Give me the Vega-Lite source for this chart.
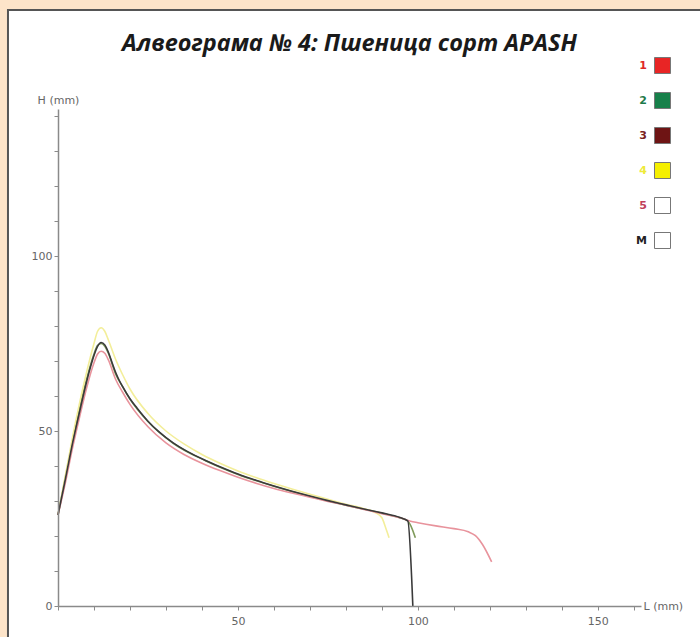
{
  "$schema": "https://vega.github.io/schema/vega-lite/v6.json",
  "width": 583,
  "height": 497,
  "autosize": {"type": "none"},
  "padding": {"left": 58, "top": 109, "right": 59, "bottom": 31},
  "background": "#fde4c9",
  "title": {
    "text": "Алвеограма № 4: Пшеница сорт APASH",
    "font": "Open Sans",
    "fontSize": 23.5,
    "fontStyle": "italic",
    "fontWeight": "bold",
    "color": "#1a1a1a",
    "anchor": "middle",
    "frame": "group",
    "offset": -47,
    "zindex": 1
  },
  "config": {
    "view": {"stroke": null},
    "axis": {
      "zindex": 1,
      "grid": false,
      "labelOverlap": false,
      "domainColor": "#8a8a8a",
      "domainWidth": 1.5,
      "tickColor": "#8a8a8a",
      "tickWidth": 1,
      "tickSize": 4,
      "labelColor": "#666666",
      "labelFont": "DejaVu Sans",
      "labelFontSize": 11,
      "titleColor": "#666666",
      "titleFont": "DejaVu Sans",
      "titleFontSize": 11,
      "titleFontWeight": "normal"
    }
  },
  "datasets": {
    "curves": [
      {"s": "2", "L": 0, "H": 26}, {"s": "2", "L": 2, "H": 36.5}, {"s": "2", "L": 4, "H": 47}, {"s": "2", "L": 6, "H": 56.5}, {"s": "2", "L": 8, "H": 65}, {"s": "2", "L": 10, "H": 72}, {"s": "2", "L": 11, "H": 74.5}, {"s": "2", "L": 12, "H": 75}, {"s": "2", "L": 13, "H": 74.2}, {"s": "2", "L": 14, "H": 72.2}, {"s": "2", "L": 16, "H": 66.3}, {"s": "2", "L": 18, "H": 62.6}, {"s": "2", "L": 20, "H": 59.1}, {"s": "2", "L": 25, "H": 52.7}, {"s": "2", "L": 32, "H": 46.5}, {"s": "2", "L": 41, "H": 41.5}, {"s": "2", "L": 50, "H": 37.6}, {"s": "2", "L": 60, "H": 34.2}, {"s": "2", "L": 70, "H": 31.3}, {"s": "2", "L": 80, "H": 28.8}, {"s": "2", "L": 90, "H": 26.5}, {"s": "2", "L": 95, "H": 25.2}, {"s": "2", "L": 97.2, "H": 24.3}, {"s": "2", "L": 99.3, "H": 19.5},
      {"s": "4", "L": 0, "H": 26}, {"s": "4", "L": 2, "H": 37}, {"s": "4", "L": 4, "H": 48}, {"s": "4", "L": 6, "H": 58}, {"s": "4", "L": 8, "H": 67}, {"s": "4", "L": 10, "H": 75}, {"s": "4", "L": 11, "H": 78.5}, {"s": "4", "L": 12, "H": 79.5}, {"s": "4", "L": 13, "H": 78.5}, {"s": "4", "L": 14, "H": 76}, {"s": "4", "L": 16, "H": 70.5}, {"s": "4", "L": 18, "H": 66}, {"s": "4", "L": 20, "H": 62}, {"s": "4", "L": 25, "H": 55}, {"s": "4", "L": 30, "H": 50}, {"s": "4", "L": 35, "H": 46.3}, {"s": "4", "L": 40, "H": 43.3}, {"s": "4", "L": 45, "H": 40.8}, {"s": "4", "L": 50, "H": 38.6}, {"s": "4", "L": 55, "H": 36.7}, {"s": "4", "L": 60, "H": 35}, {"s": "4", "L": 65, "H": 33.4}, {"s": "4", "L": 70, "H": 31.9}, {"s": "4", "L": 75, "H": 30.5}, {"s": "4", "L": 80, "H": 29.1}, {"s": "4", "L": 85, "H": 27.8}, {"s": "4", "L": 88, "H": 26.8}, {"s": "4", "L": 90, "H": 25.2}, {"s": "4", "L": 91, "H": 22.5}, {"s": "4", "L": 92, "H": 19.5},
      {"s": "5", "L": 0, "H": 26}, {"s": "5", "L": 2, "H": 35}, {"s": "5", "L": 4, "H": 45}, {"s": "5", "L": 6, "H": 54}, {"s": "5", "L": 8, "H": 62.5}, {"s": "5", "L": 10, "H": 69.5}, {"s": "5", "L": 11, "H": 72}, {"s": "5", "L": 12, "H": 72.8}, {"s": "5", "L": 13, "H": 72.2}, {"s": "5", "L": 14, "H": 70.3}, {"s": "5", "L": 16, "H": 64.8}, {"s": "5", "L": 18, "H": 61}, {"s": "5", "L": 20, "H": 57.6}, {"s": "5", "L": 25, "H": 51.2}, {"s": "5", "L": 30, "H": 46.6}, {"s": "5", "L": 35, "H": 43.3}, {"s": "5", "L": 40, "H": 40.8}, {"s": "5", "L": 45, "H": 38.7}, {"s": "5", "L": 50, "H": 36.8}, {"s": "5", "L": 55, "H": 35.1}, {"s": "5", "L": 60, "H": 33.6}, {"s": "5", "L": 65, "H": 32.3}, {"s": "5", "L": 70, "H": 31.1}, {"s": "5", "L": 75, "H": 29.9}, {"s": "5", "L": 80, "H": 28.8}, {"s": "5", "L": 85, "H": 27.6}, {"s": "5", "L": 90, "H": 26.4}, {"s": "5", "L": 95, "H": 25.2}, {"s": "5", "L": 98, "H": 24.2}, {"s": "5", "L": 100, "H": 23.8}, {"s": "5", "L": 105, "H": 22.9}, {"s": "5", "L": 110, "H": 22.1}, {"s": "5", "L": 114, "H": 21.2}, {"s": "5", "L": 116, "H": 20.1}, {"s": "5", "L": 118, "H": 17.5}, {"s": "5", "L": 120.5, "H": 12.6},
      {"s": "M", "L": 0, "H": 26}, {"s": "M", "L": 1, "H": 31}, {"s": "M", "L": 2, "H": 36}, {"s": "M", "L": 3, "H": 41.2}, {"s": "M", "L": 4, "H": 46.3}, {"s": "M", "L": 5, "H": 51}, {"s": "M", "L": 6, "H": 55.5}, {"s": "M", "L": 7, "H": 60}, {"s": "M", "L": 8, "H": 64.3}, {"s": "M", "L": 9, "H": 68.2}, {"s": "M", "L": 10, "H": 71.6}, {"s": "M", "L": 11, "H": 74.2}, {"s": "M", "L": 12, "H": 75.3}, {"s": "M", "L": 13, "H": 74.6}, {"s": "M", "L": 14, "H": 72.5}, {"s": "M", "L": 15, "H": 69.6}, {"s": "M", "L": 16, "H": 66.8}, {"s": "M", "L": 17, "H": 64.5}, {"s": "M", "L": 18, "H": 62.6}, {"s": "M", "L": 20, "H": 59.2}, {"s": "M", "L": 22, "H": 56.5}, {"s": "M", "L": 25, "H": 52.8}, {"s": "M", "L": 28, "H": 49.8}, {"s": "M", "L": 32, "H": 46.6}, {"s": "M", "L": 36, "H": 44.1}, {"s": "M", "L": 41, "H": 41.6}, {"s": "M", "L": 45, "H": 39.8}, {"s": "M", "L": 50, "H": 37.7}, {"s": "M", "L": 55, "H": 35.9}, {"s": "M", "L": 60, "H": 34.3}, {"s": "M", "L": 65, "H": 32.8}, {"s": "M", "L": 70, "H": 31.4}, {"s": "M", "L": 75, "H": 30.1}, {"s": "M", "L": 80, "H": 28.9}, {"s": "M", "L": 85, "H": 27.7}, {"s": "M", "L": 90, "H": 26.6}, {"s": "M", "L": 95, "H": 25.3}, {"s": "M", "L": 97.2, "H": 24.3}, {"s": "M", "L": 98.6, "H": 0}
    ]
  },
  "layer": [
    {
      "data": {"values": [{}]},
      "mark": {"type": "rect", "fill": "#ffffff", "stroke": "#555555", "strokeWidth": 2, "clip": false},
      "encoding": {
        "x": {
          "datum": -13.9, "type": "quantitative",
          "scale": {"domain": [0, 162], "nice": false, "zero": false},
          "axis": {
            "zindex": 2,
            "labelOverlap": false,
            "tickCount": 40,
            "values": [0, 10, 20, 30, 40, 50, 60, 70, 80, 90, 100, 110, 120, 130, 140, 150, 160],
            "labelExpr": "datum.value % 50 === 0 && datum.value > 0 ? datum.label : ''",
            "labelPadding": 5,
            "title": "L (mm)",
            "titleAngle": 0,
            "titleAlign": "left",
            "titleBaseline": "middle",
            "titleX": 585,
            "titleY": 0
          }
        },
        "x2": {"datum": 190},
        "y": {
          "datum": 170.3, "type": "quantitative",
          "scale": {"domain": [0, 142], "nice": false, "zero": false},
          "axis": {
            "zindex": 2,
            "labelOverlap": false,
            "tickCount": 40,
            "values": [0, 10, 20, 30, 40, 50, 60, 70, 80, 90, 100, 110, 120, 130, 140],
            "labelExpr": "datum.value % 50 === 0 ? datum.label : ''",
            "labelPadding": 2,
            "title": "H (mm)",
            "titleAngle": 0,
            "titleAlign": "center",
            "titleBaseline": "middle",
            "titleX": 0,
            "titleY": -9
          }
        },
        "y2": {"datum": -12}
      }
    },
    {
      "data": {"name": "curves"},
      "mark": {"type": "line", "strokeWidth": 1.6, "interpolate": "monotone"},
      "encoding": {
        "x": {
          "field": "L", "type": "quantitative",
          "scale": {"domain": [0, 162], "nice": false, "zero": false},
          "axis": {
            "zindex": 2,
            "labelOverlap": false,
            "tickCount": 40,
            "values": [0, 10, 20, 30, 40, 50, 60, 70, 80, 90, 100, 110, 120, 130, 140, 150, 160],
            "labelExpr": "datum.value % 50 === 0 && datum.value > 0 ? datum.label : ''",
            "labelPadding": 5,
            "title": "L (mm)",
            "titleAngle": 0,
            "titleAlign": "left",
            "titleBaseline": "middle",
            "titleX": 585,
            "titleY": 0
          }
        },
        "y": {
          "field": "H", "type": "quantitative",
          "scale": {"domain": [0, 142], "nice": false, "zero": false},
          "axis": {
            "zindex": 2,
            "labelOverlap": false,
            "tickCount": 40,
            "values": [0, 10, 20, 30, 40, 50, 60, 70, 80, 90, 100, 110, 120, 130, 140],
            "labelExpr": "datum.value % 50 === 0 ? datum.label : ''",
            "labelPadding": 2,
            "title": "H (mm)",
            "titleAngle": 0,
            "titleAlign": "center",
            "titleBaseline": "middle",
            "titleX": 0,
            "titleY": -9
          }
        },
        "stroke": {
          "field": "s", "type": "nominal",
          "scale": {"domain": ["2", "4", "5", "M"], "range": ["#7f9a5a", "#f3ee9a", "#e8939c", "#3a3a3a"]},
          "legend": null
        },
        "order": {"field": "L", "type": "quantitative"}
      }
    },
    {
      "data": {"name": "curves"},
      "mark": {"type": "point", "shape": "square", "filled": true, "opacity": 0, "stroke": "#777777", "strokeWidth": 1},
      "encoding": {
        "x": {"field": "L", "type": "quantitative"},
        "y": {"field": "H", "type": "quantitative"},
        "fill": {
          "field": "s", "type": "nominal",
          "scale": {"domain": ["1", "2", "3", "4", "5", "M"], "range": ["#e82525", "#17804a", "#6e1414", "#f5ef00", "#ffffff", "#ffffff"]},
          "legend": {
            "title": null,
            "orient": "none",
            "legendX": 596,
            "legendY": -52,
            "padding": 0,
            "symbolType": "square",
            "symbolSize": 256,
            "symbolStrokeColor": "#777777",
            "symbolStrokeWidth": 1,
            "rowPadding": 14,
            "labelAlign": "right",
            "labelOffset": -24,
            "labelFont": "DejaVu Sans",
            "labelFontSize": 11,
            "labelFontWeight": "bold",
            "labelColor": {"expr": "datum.label === '1' ? '#e02828' : datum.label === '2' ? '#1f7a4a' : datum.label === '3' ? '#7a2020' : datum.label === '4' ? '#eeea3a' : datum.label === '5' ? '#c0405a' : '#222222'"},
            "zindex": 1
          }
        }
      }
    }
  ]
}
